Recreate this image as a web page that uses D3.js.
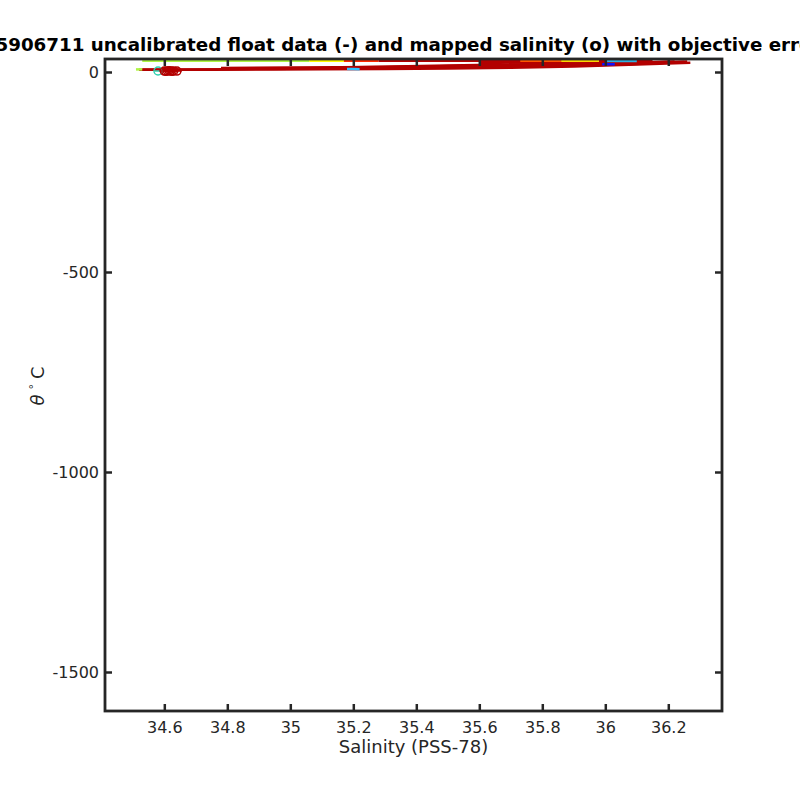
<!DOCTYPE html>
<html>
<head>
<style>
  body { margin: 0; background: #fff; }
  svg text { font-family: "DejaVu Sans", sans-serif; fill: #262626; }
</style>
<script src="https://d3js.org/d3.v7.min.js"></script>
</head>
<body>
<script>
// tick values
const xTicks = [34.6, 34.8, 35, 35.2, 35.4, 35.6, 35.8, 36, 36.2];
const yTicks = [0, -500, -1000, -1500];

// uncalibrated float profiles (salinity, theta), colour from jet by cycle
const profSal = [
  [34.53, 35.06],
  [35.06, 35.17],
  [35.17, 35.28],
  [35.28, 35.95, 36.1],
  [34.52, 34.6, 34.75, 34.95, 35.1, 35.3, 35.5, 35.7, 35.9, 36.1, 36.27],
  [34.53, 34.62, 34.8, 35.0, 35.2, 35.45, 35.65, 35.85, 36.05, 36.25],
  [34.78, 35.0, 35.3, 35.6, 35.8, 36.0, 36.2],
  [35.4, 35.6, 35.8, 36.0, 36.22],
  [35.2, 35.5, 35.8, 36.1, 36.26],
  [35.6, 35.8, 36.0, 36.15],
  [35.0, 35.3, 35.6, 35.9, 36.2],
  [35.73, 35.78, 35.86],
  [35.86, 35.93, 35.98],
  [36.0, 36.05, 36.1],
  [35.18, 35.2, 35.22],
  [35.99, 36.01, 36.03],
  [34.51, 34.53]
];
const profTheta = [
  [28.0, 28.0],
  [28.0, 28.0],
  [28.0, 28.0],
  [28.0, 27.8, 27.6],
  [5.5, 5.6, 5.8, 6.2, 6.8, 7.5, 8.5, 10.5, 14, 19, 23],
  [6, 6.3, 7, 8, 9, 11, 13, 15.5, 19, 25],
  [10, 11, 12.5, 14.5, 17, 20, 25],
  [13, 15, 18, 21, 26],
  [12, 16, 20, 24, 26.5],
  [22, 25, 27, 28],
  [9, 12, 16, 19, 24],
  [28.3, 28.3, 28.3],
  [28.1, 28.1, 28.1],
  [27.5, 27.5, 27.5],
  [7.3, 7.2, 7.1],
  [19.5, 19.3, 19.2],
  [6.5, 6.5]
];
const profColor = [
  "#adf542", "#ffff00", "#ff2a00", "#b30000",
  "#b30000", "#b30000", "#b30000", "#b30000", "#b30000", "#b30000", "#b30000",
  "#ff5500", "#ffd400", "#30b0e0", "#30c0ff", "#1010ff", "#adf542"
];

// mapped salinity with objective errors
const mapSal = [34.58, 34.6, 34.61, 34.62, 34.63, 34.64, 34.625, 34.615, 34.605];
const mapTheta = [2.5, 2.3, 2.8, 2.2, 2.6, 2.4, 1.6, 3.2, 1.8];
const mapErr = [0.01, 0.015, 0.01, 0.012, 0.01, 0.015, 0.01, 0.01, 0.01];
const mapColor = ["#30d0b0", "#b30000", "#b30000", "#b30000", "#b30000", "#b30000", "#b30000", "#b30000", "#b30000"];

const W = 800, H = 800;
const m = { left: 105, right: 722, top: 59, bottom: 711 };

const svg = d3.select("body").append("svg")
  .attr("width", W).attr("height", H);

const x = d3.scaleLinear().domain([34.4117, 36.3705]).range([m.left, m.right]);
const y = d3.scaleLinear().domain([-1597.5, 32.5]).range([m.bottom, m.top]);

const plot = svg.append("g");

const line = d3.line().x(d => x(d[0])).y(d => y(d[1]));

profSal.forEach((s, i) => {
  const pts = s.map((v, j) => [v, profTheta[i][j]]);
  plot.append("path")
    .attr("d", line(pts))
    .attr("fill", "none")
    .attr("stroke", profColor[i])
    .attr("stroke-width", 2.5);
});

// error bars and circles
mapSal.forEach((s, i) => {
  plot.append("line")
    .attr("x1", x(s - mapErr[i])).attr("x2", x(s + mapErr[i]))
    .attr("y1", y(mapTheta[i])).attr("y2", y(mapTheta[i]))
    .attr("stroke", mapColor[i]).attr("stroke-width", 1.5);
});
plot.selectAll("circle.map")
  .data(mapSal)
  .join("circle")
  .attr("class", "map")
  .attr("cx", d => x(d))
  .attr("cy", (d, i) => y(mapTheta[i]))
  .attr("r", 4)
  .attr("fill", "none")
  .attr("stroke", (d, i) => mapColor[i])
  .attr("stroke-width", 1.5);

// box axes with inward ticks
const axCol = "#262626";
const fmt = d => String(d);
const gBottom = svg.append("g").attr("transform", `translate(0,${m.bottom})`)
  .call(d3.axisBottom(x).tickValues(xTicks).tickSize(-7).tickPadding(11).tickFormat(fmt));
const gTop = svg.append("g").attr("transform", `translate(0,${m.top})`)
  .call(d3.axisTop(x).tickValues(xTicks).tickSize(-7).tickFormat(""));
const gLeft = svg.append("g").attr("transform", `translate(${m.left},0)`)
  .call(d3.axisLeft(y).tickValues(yTicks).tickSize(-7).tickPadding(6).tickFormat(fmt));
const gRight = svg.append("g").attr("transform", `translate(${m.right},0)`)
  .call(d3.axisRight(y).tickValues(yTicks).tickSize(-7).tickFormat(""));

[gBottom, gTop, gLeft, gRight].forEach(g => {
  g.select(".domain").remove();
  g.selectAll(".tick line").attr("stroke", axCol).attr("stroke-width", 2.5);
  g.selectAll(".tick text").attr("font-size", 16).attr("fill", axCol)
    .attr("font-family", "DejaVu Sans, sans-serif");
});

svg.append("rect")
  .attr("x", m.left).attr("y", m.top)
  .attr("width", m.right - m.left).attr("height", m.bottom - m.top)
  .attr("fill", "none").attr("stroke", axCol).attr("stroke-width", 2.8);

// title and labels
svg.append("text")
  .attr("x", (m.left + m.right) / 2).attr("y", 51)
  .attr("text-anchor", "middle")
  .attr("font-size", 18.3).attr("font-weight", "bold")
  .style("fill", "#000")
  .text("5906711 uncalibrated float data (-) and mapped salinity (o) with objective errors");

svg.append("text")
  .attr("x", (m.left + m.right) / 2).attr("y", 753)
  .attr("text-anchor", "middle")
  .attr("font-size", 18)
  .text("Salinity (PSS-78)");

const yl = svg.append("text")
  .attr("transform", "translate(44,386) rotate(-90)")
  .attr("text-anchor", "middle")
  .attr("font-size", 18);
yl.append("tspan").attr("font-style", "italic").text("θ");
yl.append("tspan").attr("dx", 5).attr("dy", -7).attr("font-size", 11).text("°");
yl.append("tspan").attr("dx", 5).attr("dy", 7).text("C");
</script>
</body>
</html>
